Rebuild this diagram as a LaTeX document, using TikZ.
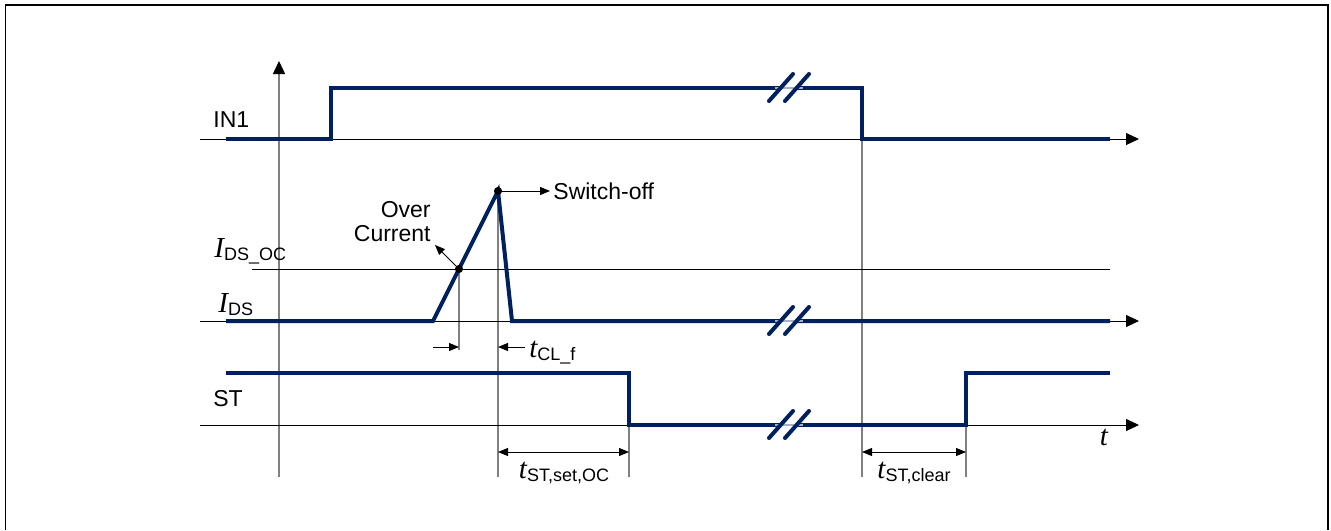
\documentclass[tikz,border=0pt]{standalone}
\usepackage{fontspec}
\setmainfont{Liberation Sans}
\newfontfamily\timesit{Liberation Serif}
\usetikzlibrary{arrows.meta}
\definecolor{sigblue}{RGB}{0,32,96}
\newcommand\itsym[1]{{\timesit\itshape\fontsize{14.5}{16}\selectfont #1}}
\newcommand\lowtxt[1]{\raisebox{-0.3ex}{\fontsize{9}{11}\selectfont #1}}
\begin{document}
\begin{tikzpicture}[x=0.5pt,y=-0.5pt,
    every node/.style={font=\fontsize{11.5}{13}\selectfont,inner sep=0pt},
    signal/.style={sigblue,line width=2pt},
    base/.style={black,line width=0.5pt},
    axis/.style={base,-{Triangle[length=6.5pt,width=6pt]}},
    guide/.style={gray,line width=0.75pt},
    dim/.style={black,line width=0.5pt,-{Triangle[length=5pt,width=4pt]}},
    dimboth/.style={black,line width=0.5pt,{Triangle[length=5pt,width=4pt]}-{Triangle[length=5pt,width=4pt]}}]
    \useasboundingbox (0,0) rectangle (1331,530);
    % frame
    \draw[line width=0.6pt] (5.5,530) -- (5.5,5) -- (1328,5) -- (1328,530);

    % time axis and guides
    \draw[guide,-{Triangle[length=6.5pt,width=6pt,color=black]}] (279,477) -- (279,61);
    \draw[guide] (459,269) -- (459,350);
    \draw[guide] (498,191) -- (498,477);
    \draw[guide] (629,373) -- (629,477);
    \draw[guide] (862,139) -- (862,477);
    \draw[guide] (966,373) -- (966,477);

    % base lines
    \draw[axis] (200,139) -- (1139,139);
    \draw[base] (252,269) -- (1110,269);
    \draw[axis] (200,321) -- (1139,321);
    \draw[axis] (200,425) -- (1139,425);

    % signals
    \draw[signal] (226,139) -- (331,139) -- (331,88) -- (862,88) -- (862,139) -- (1110,139);
    \draw[signal] (226,321) -- (433,321) -- (498,191) -- (512,321) -- (1110,321);
    \draw[signal] (226,373) -- (629,373) -- (629,425) -- (966,425) -- (966,373) -- (1110,373);

    % breaks
    \foreach \yy in {88,321,425} {
        \fill[white] (769,\yy+13) -- (793,\yy-14) -- (809,\yy-14) -- (785,\yy+13) -- cycle;
        \draw[sigblue!35,line width=0.6pt] (775,\yy) -- (803,\yy);
        \draw[signal,line cap=round] (769,\yy+13) -- (793,\yy-14);
        \draw[signal,line cap=round] (785,\yy+13) -- (809,\yy-14);
    }

    % labels of the rows
    \node[anchor=base west] (in1) at (213,127) {IN1};
    \node[anchor=base west] (idsoc) at (214,257) {\itsym{I}\lowtxt{DS\_OC}};
    \node[anchor=base west] (ids) at (218,312) {\itsym{I}\lowtxt{DS}};
    \node[anchor=base west] (st) at (213,406) {ST};
    \node[anchor=base] (tlab) at (1104,445) {\itsym{t}};

    % over current and switch-off
    \coordinate (oc) at (459,269);
    \coordinate (off) at (498,191);
    \filldraw (oc) circle (1.8pt);
    \filldraw (off) circle (1.8pt);
    \node[anchor=east,align=right] (octxt) at (431,222) {Over\\[-1pt]Current};
    \node[anchor=west] (offtxt) at (553,191) {Switch-off};
    \coordinate (octip) at (435,245);
    \draw[dim] (oc) -- (octip);
    \draw[dim] (off) -- ([xshift=-1.5pt]offtxt.west);

    % timings
    \coordinate (clL) at (433,347);
    \coordinate (clR) at (525,347);
    \draw[dim] (clL) -- (459,347);
    \draw[dim] (clR) -- (498,347);
    \node[anchor=base west] (tcl) at (529,357) {\itsym{t}\lowtxt{CL\_f}};
    \draw[dimboth] (498,452) -- (629,452);
    \node[anchor=base] (tset) at (564,478) {\itsym{t}\lowtxt{ST,set,OC}};
    \draw[dimboth] (862,452) -- (966,452);
    \node[anchor=base] (tclr) at (914,478) {\itsym{t}\lowtxt{ST,clear}};
\end{tikzpicture}
\end{document}
